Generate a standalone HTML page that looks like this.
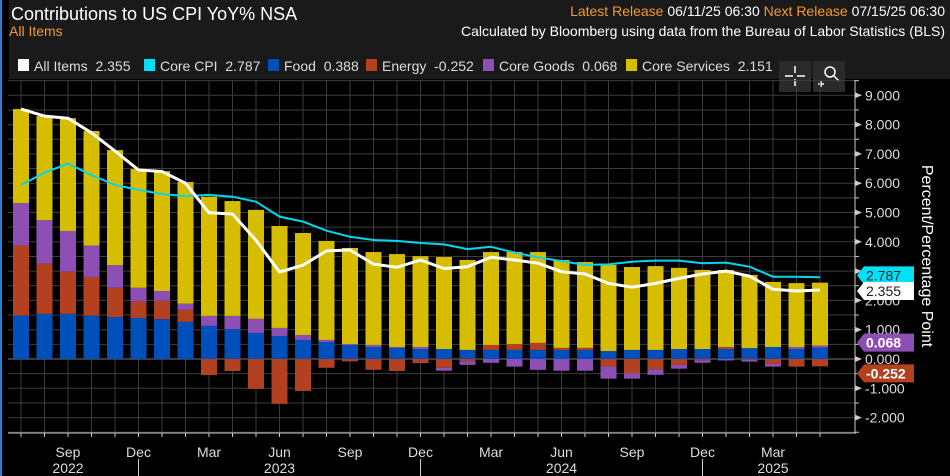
<!DOCTYPE html>
<html><head><meta charset="utf-8"><style>
html,body{margin:0;padding:0;background:#000;width:950px;height:476px;overflow:hidden}
svg{display:block;font-family:"Liberation Sans",sans-serif}
</style></head><body>
<svg id="c" width="950" height="476" viewBox="0 0 950 476">
<rect x="0" y="0" width="950" height="476" fill="#000"/>
<rect x="9" y="0" width="941" height="79" fill="#1a1a1a"/>
<rect x="0" y="0" width="2" height="476" fill="#2a7fd4"/>
<text x="11" y="20" font-size="18" fill="#fff">Contributions to US CPI YoY% NSA</text>
<text x="9" y="36" font-size="14" fill="#f39a2c">All Items</text>
<text x="945" y="16" font-size="14" text-anchor="end"><tspan fill="#f39a2c">Latest Release</tspan><tspan fill="#fff"> 06/11/25 06:30 </tspan><tspan fill="#f39a2c"> Next Release</tspan><tspan fill="#fff"> 07/15/25 06:30</tspan></text>
<text x="945" y="36" font-size="14" fill="#fff" text-anchor="end">Calculated by Bloomberg using data from the Bureau of Labor Statistics (BLS)</text>
<g id="legend" font-size="14" fill="#ddd"></g>
<g><rect x="779" y="61" width="32" height="31" fill="#2a2a2a"/><path d="M785 76h8M797 76h8M795 66v7M795 79v7" stroke="#fff" stroke-width="1.5"/></g>
<g><rect x="813" y="61" width="32" height="31" fill="#2a2a2a"/><circle cx="830" cy="72" r="5" stroke="#fff" stroke-width="1.5" fill="none"/><path d="M834 76l5 5M818 84h6M821 81v6" stroke="#fff" stroke-width="1.5"/></g>
<g id="grid"></g><g id="bars"></g><g id="lines"></g><g id="axes"></g>
<text transform="translate(922,256) rotate(90)" font-size="16" fill="#fff" text-anchor="middle">Percent/Percentage Point</text>
</svg>
<script>
const months=["Jul","Aug","Sep","Oct","Nov","Dec","Jan","Feb","Mar","Apr","May","Jun","Jul","Aug","Sep","Oct","Nov","Dec","Jan","Feb","Mar","Apr","May","Jun","Jul","Aug","Sep","Oct","Nov","Dec","Jan","Feb","Mar","Apr","May"];
const food=[1.48,1.54,1.54,1.48,1.43,1.40,1.36,1.27,1.13,1.02,0.89,0.78,0.65,0.58,0.48,0.41,0.38,0.34,0.34,0.31,0.31,0.31,0.31,0.31,0.31,0.27,0.31,0.31,0.34,0.34,0.34,0.37,0.41,0.34,0.388];
const energy=[2.39,1.71,1.44,1.32,1.00,0.56,0.63,0.41,-0.55,-0.41,-1.02,-1.53,-1.09,-0.30,-0.08,-0.37,-0.41,-0.14,-0.30,-0.08,0.17,0.20,0.24,0.07,0.07,-0.26,-0.48,-0.35,-0.20,-0.04,0.07,-0.03,-0.17,-0.26,-0.252];
const goods=[1.45,1.49,1.39,1.07,0.77,0.47,0.33,0.21,0.34,0.45,0.48,0.28,0.17,0.07,0.03,0.07,0.03,0.07,-0.10,-0.12,-0.13,-0.26,-0.37,-0.40,-0.40,-0.41,-0.19,-0.19,-0.13,-0.09,-0.05,-0.06,-0.09,0.07,0.068];
const services=[3.21,3.55,3.85,3.91,3.93,4.05,4.09,4.15,4.07,3.92,3.72,3.48,3.48,3.38,3.28,3.17,3.17,3.10,3.14,3.07,3.17,3.14,3.10,3.00,2.93,2.94,2.83,2.86,2.77,2.70,2.63,2.50,2.22,2.18,2.151];
const allItems=[8.53,8.29,8.22,7.72,7.1,6.45,6.4,6.0,4.99,4.95,4.05,2.97,3.2,3.69,3.72,3.24,3.13,3.38,3.09,3.15,3.47,3.38,3.27,2.98,2.90,2.58,2.45,2.58,2.75,2.90,3.0,2.83,2.38,2.32,2.355];
const coreCpi=[5.94,6.36,6.67,6.28,5.94,5.77,5.63,5.56,5.6,5.54,5.37,4.86,4.69,4.38,4.17,4.06,4.03,3.96,3.91,3.75,3.83,3.63,3.47,3.34,3.21,3.23,3.32,3.36,3.36,3.27,3.29,3.15,2.81,2.81,2.787];
const yTicks=[9,8,7,6,5,4,3,2,1,0,-1,-2];
const years=[["2022",2],["2023",11],["2024",23],["2025",32]];
const NS="http://www.w3.org/2000/svg";
const X0=21,DX=23.5,Y0=359,SC=29.3,LEFT=8,RIGHT=855,TOP=80,BOT=433,BW=16;
const x=i=>X0+i*DX, y=v=>Y0-v*SC;
function mk(p,t,a){const e=document.createElementNS(NS,t);for(const k in a)e.setAttribute(k,a[k]);p.appendChild(e);return e;}
const G=document.getElementById('grid'),B=document.getElementById('bars'),L=document.getElementById('lines'),A=document.getElementById('axes'),LG=document.getElementById('legend');
// grid
for(let v=-2.5;v<=9.5;v+=0.5){const yy=y(v);if(yy<TOP||yy>BOT)continue;
 const g=mk(G,'line',{x1:LEFT,x2:RIGHT,y1:yy,y2:yy,stroke:'#3c3c3c','stroke-width':1});
 
 }
for(let i=0;i<months.length;i++){const g=mk(G,'line',{x1:x(i),x2:x(i),y1:TOP,y2:BOT,stroke:'#3c3c3c','stroke-width':1});
 
 }
mk(G,'line',{x1:LEFT,x2:RIGHT,y1:Y0,y2:Y0,stroke:'#777','stroke-width':1});
// bars
const series=[[food,'#0050bb','food'],[energy,'#b3401e','energy'],[goods,'#8e4fb5','core-goods'],[services,'#d6bd00','core-services']];
for(let i=0;i<months.length;i++){let pos=0,neg=0;
 for(const [arr,col,nm] of series){const v=arr[i];let y1,y2;
  if(v>=0){y1=y(pos+v);y2=y(pos);pos+=v;}else{y1=y(neg);y2=y(neg+v);neg+=v;}
  const r=mk(B,'rect',{x:x(i)-BW/2,y:y1,width:BW,height:Math.max(0,y2-y1),fill:col});
  
  }}
// lines
function line(arr,col,w,nm){const d=arr.map((v,i)=>(i?'L':'M')+x(i).toFixed(1)+' '+y(v).toFixed(1)).join('');
 const p=mk(L,'path',{d:d,stroke:col,'stroke-width':w,fill:'none','stroke-linejoin':'round'});
 
 }
line(coreCpi,'#00d8f0',2,'core-cpi-line');
line(allItems,'#ffffff',3,'all-items-line');
// axes
mk(A,'line',{x1:LEFT,x2:RIGHT+1,y1:BOT,y2:BOT,stroke:'#ccc','stroke-width':1});
mk(A,'line',{x1:RIGHT,x2:RIGHT,y1:TOP,y2:BOT,stroke:'#ccc','stroke-width':1});
for(let i=0;i<months.length;i++)mk(A,'line',{x1:x(i),x2:x(i),y1:BOT,y2:BOT+4,stroke:'#ccc'});
for(let v=-2.5;v<=9.5;v+=0.5){const yy=y(v);if(yy<TOP||yy>BOT)continue;mk(A,'line',{x1:RIGHT,x2:RIGHT+4,y1:yy,y2:yy,stroke:'#ccc'});}
for(const v of yTicks){const yy=y(v);
 mk(A,'path',{d:`M${RIGHT} ${yy-3}L${RIGHT+7} ${yy}L${RIGHT} ${yy+3}Z`,fill:'#ccc'});
 const t=mk(A,'text',{x:RIGHT+10,y:yy+5,'font-size':14,fill:'#ddd'});t.textContent=v.toFixed(3);
 
 }
months.forEach((m,i)=>{if(["Sep","Dec","Mar","Jun"].includes(m)){const t=mk(A,'text',{x:x(i),y:457,'font-size':14,fill:'#ddd','text-anchor':'middle'});t.textContent=m;
 
 }
 if(m==="Dec")mk(A,'line',{x1:x(i),x2:x(i),y1:459,y2:476,stroke:'#ccc'});});
years.forEach(([yr,i])=>{const t=mk(A,'text',{x:x(i),y:473,'font-size':14,fill:'#ddd','text-anchor':'middle'});t.textContent=yr;
 
 });
// value tags
const tags=[[coreCpi[34],'#00e0f8','#222',-2,'2.787','core-cpi-tag'],[allItems[34],'#ffffff','#222',1,'2.355','all-items-tag'],[goods[34]+food[34],'#8e4fb5','#fff',-3,'0.068','core-goods-tag'],[energy[34],'#b3401e','#fff',7,'-0.252','energy-tag']];
tags.forEach(([v,bg,fg,off,lab,nm])=>{const cy=y(v)+off;
 const g=mk(A,'g',{});
 
 
 mk(g,'path',{d:`M857 ${cy}L864 ${cy-9}L914 ${cy-9}L914 ${cy+9}L864 ${cy+9}Z`,fill:bg});
 const t=mk(g,'text',{x:866,y:cy+5,'font-size':14,fill:fg,'font-weight':fg==='#fff'?'bold':'normal'});t.textContent=lab;});
// legend
const leg=[['#fff','All Items  2.355',18],['#00e0f8','Core CPI  2.787',144],['#0050bb','Food  0.388',268],['#b3401e','Energy  -0.252',366],['#8e4fb5','Core Goods  0.068',483],['#d6bd00','Core Services  2.151',626]];
leg.forEach(([c,l,lx])=>{const g=mk(LG,'g',{});
 
 
 mk(g,'rect',{x:lx,y:59,width:11,height:12,fill:c});
 const t=mk(g,'text',{x:lx+16,y:71,'xml:space':'preserve'});t.style.whiteSpace='pre';t.textContent=l;});
</script>
</body></html>
